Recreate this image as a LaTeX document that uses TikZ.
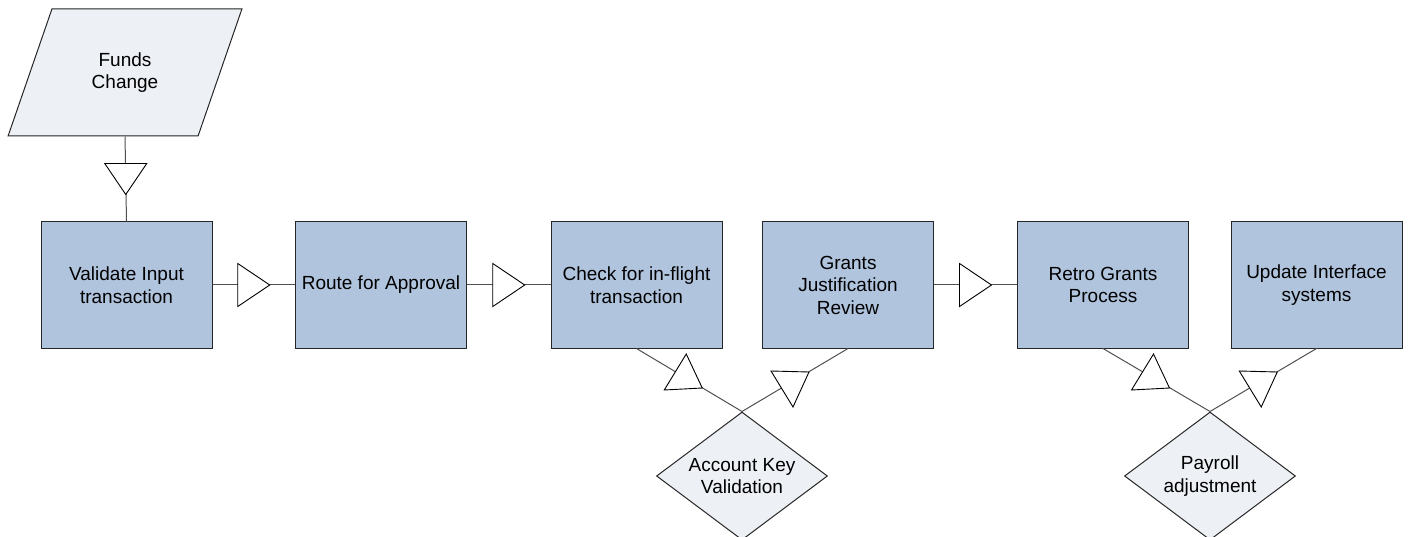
\documentclass[tikz,border=0pt]{standalone}
\usepackage{fontspec}
\setmainfont{Liberation Sans}
\usetikzlibrary{shapes.geometric}
\definecolor{procblue}{RGB}{176,196,222}
\definecolor{datagray}{RGB}{237,240,245}
\definecolor{linkgray}{RGB}{80,80,80}
\begin{document}
\begin{tikzpicture}[x=1pt,y=-1pt,line width=1pt,
        every node/.style={font=\fontsize{19}{22.5}\selectfont, align=center, inner sep=0pt},
        proc/.style={draw=black!85, fill=procblue, minimum width=171pt, minimum height=126pt},
        data/.style={trapezium, trapezium left angle=63.6, trapezium right angle=116.4, trapezium stretches,
            draw=black!85, fill=datagray, minimum width=234pt, minimum height=127pt},
        dec/.style={diamond, shape aspect=1.34, draw=black!85, fill=datagray, minimum width=171pt, minimum height=128pt},
        link/.style={draw=linkgray},
        arr/.style={draw=black, fill=white, line width=0.9pt},
        tri right/.pic={\path[arr] (-16,-21.5) -- (16,0) -- (-16,21.5) -- cycle;},
        tri down/.pic={\path[arr] (-21,-15.5) -- (21,-15.5) -- (0,15.5) -- cycle;},
        tri up/.pic={\path[arr] (-3,-26) -- (13,8) -- (-25,10) -- cycle;},
        tri dn/.pic={\path[arr] (-24,-9) -- (14,-8) -- (-2,27) -- cycle;}]
        \useasboundingbox (0,0) rectangle (1408,537);

        \node[data] (funds) at (125,72.5) {Funds\\Change};
        \node[proc] (val) at (126.5,285) {Validate Input\\transaction};
        \node[proc] (route) at (381,285) {Route for Approval};
        \node[proc] (check) at (636.5,285) {Check for in-flight\\transaction};
        \node[proc] (grants) at (848,285) {Grants\\Justification\\Review};
        \node[proc] (retro) at (1103,285) {Retro Grants\\Process};
        \node[proc] (update) at (1316.5,285) {Update Interface\\systems};
        \node[dec] (akv) at (742,476) {Account Key\\Validation};
        \node[dec] (pay) at (1210,476) {Payroll\\adjustment};

        \draw[link] (funds.south) -- (val.north) coordinate[midway] (m0);
        \pic at (m0) {tri down};
        \foreach \a/\b in {val/route, route/check, grants/retro} {
            \draw[link] (\a.east) -- (\b.west) coordinate[midway] (m);
            \pic at (m) {tri right};
        }
        \foreach \a/\d/\b in {check/akv/grants, retro/pay/update} {
            \draw[link] (\a.south) -- (\d.north) coordinate[midway] (m1) -- (\b.south) coordinate[midway] (m2);
            \pic at (m1) {tri up};
            \pic at (m2) {tri dn};
        }
\end{tikzpicture}
\end{document}
